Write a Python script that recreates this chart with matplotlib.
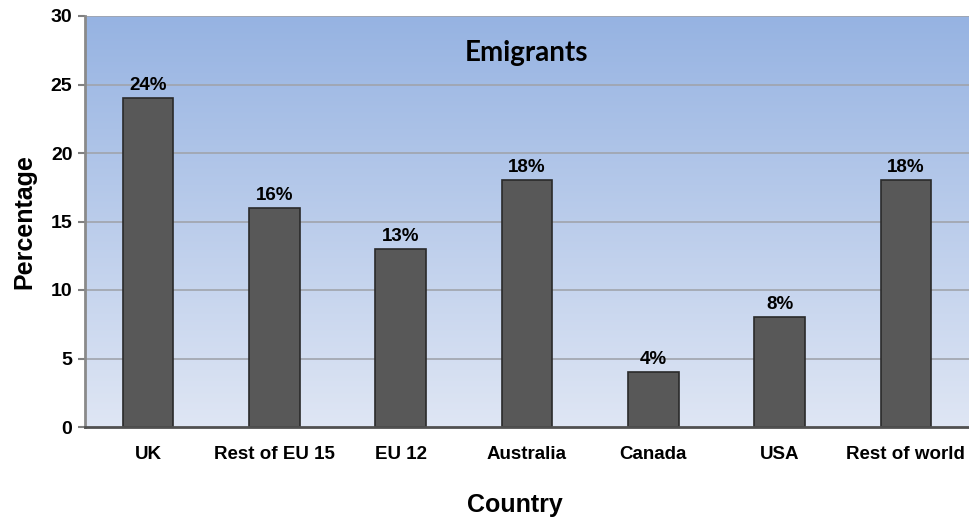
import numpy as np
import matplotlib.pyplot as plt
from matplotlib.colors import LinearSegmentedColormap

plt.rcParams['font.family'] = ['Liberation Sans', 'DejaVu Sans']

countries = ["UK", "Rest of EU 15", "EU 12", "Australia", "Canada", "USA", "Rest of world"]
shares = [24, 16, 13, 18, 4, 8, 18]
y_ticks = [0, 5, 10, 15, 20, 25, 30]

W, H = 970, 519
fig = plt.figure(figsize=(W / 100, H / 100), dpi=100)
ax = fig.add_axes([85 / W, 1 - 427 / H, 884 / W, 411 / H])

x = np.arange(len(countries))
ax.set_xlim(-0.5, len(countries) - 0.5)
ax.set_ylim(0, 30)

# vertical gradient background, blue at top fading to pale near the axis
bg = LinearSegmentedColormap.from_list("bg", ["#dfe6f4", "#96b3e2"])
grad = np.linspace(0, 1, 256).reshape(-1, 1)
ax.imshow(grad, cmap=bg, aspect="auto", origin="lower",
          extent=(-0.5, len(countries) - 0.5, 0, 30), zorder=0)

for t in y_ticks[1:]:
    ax.axhline(t, color="#a0a4ac", lw=1.2, zorder=1)

ax.bar(x, shares, width=0.4, color="#585858", edgecolor="#2a2a2a", lw=1.2, zorder=2)
for xi, v in zip(x, shares):
    ax.text(xi, v + 0.3, f"{v}%", ha="center", va="bottom",
            fontsize=13.5, fontweight="bold", zorder=3)

ax.text(3.0, 27.3, "Emigrants", ha="center", va="center",
        fontsize=20, fontweight="bold", family=["Lato", "DejaVu Sans"], zorder=3)

ax.set_xticks(x)
ax.set_xticklabels(countries, fontsize=13.5, fontweight="bold")
ax.set_yticks(y_ticks)
ax.set_yticklabels([str(t) for t in y_ticks], fontsize=14, fontweight="bold")
ax.tick_params(axis="x", length=0, pad=14)
ax.tick_params(axis="y", length=5, width=1.5, color="#808080", pad=4)

for s in ["top", "right"]:
    ax.spines[s].set_visible(False)
ax.spines["left"].set_color("#8a8a8a")
ax.spines["left"].set_linewidth(2)
ax.spines["bottom"].set_color("#505050")
ax.spines["bottom"].set_linewidth(2)

fig.text(515 / W, 1 - 505 / H, "Country", ha="center", va="center",
         fontsize=18, fontweight="bold")
ax.set_ylabel("Percentage", fontsize=18, fontweight="bold", labelpad=10)

fig.savefig("out.png", dpi=100)
